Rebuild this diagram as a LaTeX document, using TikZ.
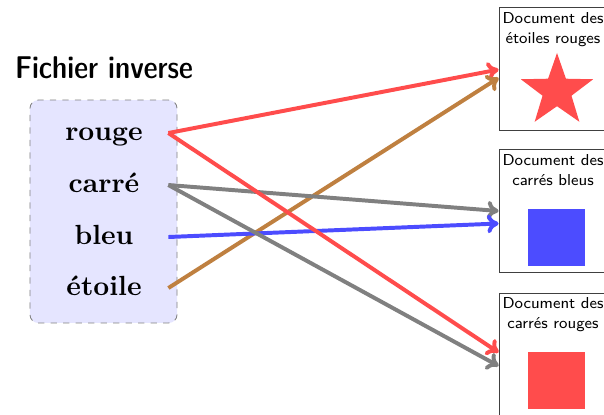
\documentclass[tikz,border=0pt]{standalone}
\usetikzlibrary{shapes.geometric,arrows.meta}
\newcommand{\doctext}[2]{\scalebox{1.52}{\tiny\sffamily\begin{tabular}{@{}c@{}}#1\\[0.3pt]#2\end{tabular}}}
\begin{document}
\begin{tikzpicture}[x=0.48pt,y=-0.48pt,
  word/.style={font=\bfseries, minimum width=61.4pt, inner sep=0pt, text height=9.2pt, text depth=2.2pt},
  docbox/.style={draw=black!75, thin, minimum width=51.4pt, minimum height=59pt, inner sep=0pt},
  doctitle/.style={inner sep=0pt},
  link/.style={line width=1.9pt, -{To[length=5.5pt,width=9pt]}}]
\useasboundingbox (0,0) rectangle (604,414);
\node[inner sep=0pt] (title) at (104,68) {\resizebox{85.4pt}{!}{\footnotesize\sffamily\fontseries{sbc}\selectfont Fichier inverse}};
\node[draw=gray, dashed, fill=blue!10, rounded corners=4pt, minimum width=70.6pt, minimum height=107pt] (fichier) at (103.5,211.5) {};
\node[word] (rouge) at (104,133) {\scalebox{1.33}{rouge}};
\node[word] (carre) at (104,185) {\scalebox{1.33}{carré}};
\node[word] (bleu) at (104,237) {\scalebox{1.33}{bleu}};
\node[word] (etoile) at (104,288) {\scalebox{1.33}{étoile}};
% documents
\node[docbox] (doc1) at (552.5,68.5) {};
\node[docbox] (doc2) at (552.5,211) {};
\node[docbox] (doc3) at (552.5,354.5) {};
\node[doctitle] (t1) at (553,30) {\doctext{Document des}{étoiles rouges}};
\node[doctitle] (t2) at (553,172) {\doctext{Document des}{carrés bleus}};
\node[doctitle] (t3) at (553,315) {\doctext{Document des}{carrés rouges}};
\node[star, star points=5, star point ratio=2.5, fill=red!70, inner sep=0pt, minimum size=36.5pt] (star) at (557,91) {};
\node[fill=blue!70, minimum size=27.4pt, inner sep=0pt] (bsq) at (556.5,237.5) {};
\node[fill=red!70, minimum size=27.4pt, inner sep=0pt] (rsq) at (556.5,380.5) {};
% links
\draw[link, red!70] (rouge.east) -- ([yshift=-0.5pt]doc1.west);
\draw[link, brown] (etoile.east) -- ([yshift=-4.5pt]doc1.west);
\draw[link, gray] (carre.east) -- (doc2.west);
\draw[link, blue!70] (bleu.east) -- ([yshift=-6pt]doc2.west);
\draw[link, red!70] (rouge.east) -- ([yshift=1pt]doc3.west);
\draw[link, gray] (carre.east) -- ([yshift=-5.5pt]doc3.west);
\end{tikzpicture}
\end{document}
